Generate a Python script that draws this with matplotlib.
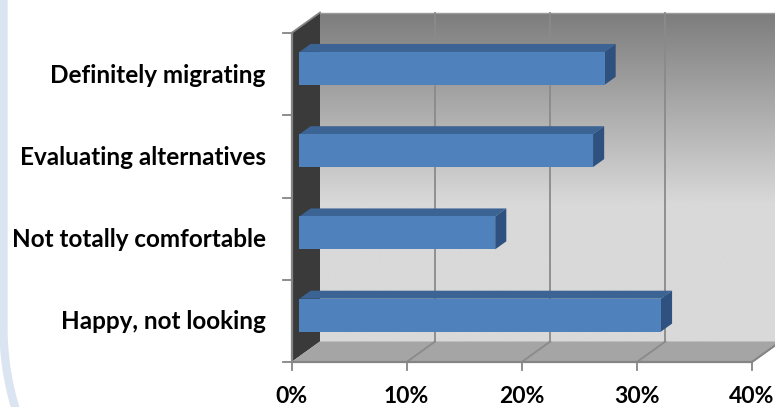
import numpy as np
import matplotlib
matplotlib.use("Agg")
import matplotlib.pyplot as plt
from matplotlib.patches import Polygon

plt.rcParams["font.family"] = ["Lato", "DejaVu Sans"]

# ---- data ---------------------------------------------------------------
categories = ["Happy, not looking", "Not totally comfortable",
              "Evaluating alternatives", "Definitely migrating"]
shares = [0.314, 0.170, 0.255, 0.265]
x_ticks = [0.0, 0.1, 0.2, 0.3, 0.4]
x_tick_labels = ["0%", "10%", "20%", "30%", "40%"]

# ---- layout -------------------------------------------------------------
W, H, DPI = 775, 407, 100
X0_PX, X1_PX = 291.5, 752.0        # front edge of the floor
YTOP_PX, YBOT_PX = 33.0, 362.0     # front edge of the left wall
XMAX = x_ticks[-1]
n = len(categories)
sx = (X1_PX - X0_PX) / XMAX        # pixels per unit share
sy = (YBOT_PX - YTOP_PX) / n       # pixels per category

DEPTH_X = 28.5 / sx                # box depth, in data units
DEPTH_Y = 20.5 / sy
F0, F1 = 0.28, 0.67                # bar front/back as a fraction of depth
BAR_H = 0.40

BAR_FRONT = "#4f81bd"
BAR_TOP = "#3b6393"
BAR_SIDE = "#2e517f"
LEFT_WALL = "#3a3a3a"
FLOOR = "#a5a5a5"
EDGE = "#858585"
GRID = "#8a8a8a"

fig = plt.figure(figsize=(W / DPI, H / DPI), dpi=DPI)

# slide frame behind the chart
bg = fig.add_axes([0, 0, 1, 1], zorder=0)
bg.set_xlim(0, W)
bg.set_ylim(H, 0)
bg.axis("off")
R, cx, cy = 275.0, 275.0 + 3.5, 328.0
t = np.linspace(0, 0.36, 60)
fx = np.concatenate([[3.5, 3.5], cx - R * np.cos(t)])
fy = np.concatenate([[-10, cy], cy + R * np.sin(t)])
bg.plot(fx, fy, color="#dbe5f1", lw=6, solid_capstyle="butt")

ax = fig.add_axes([0, 0, 1, 1], zorder=1)
ax.patch.set_alpha(0)
ymin = -0.5 - (H - YBOT_PX) / sy
ymax = ymin + H / sy
xmin = -X0_PX / sx
xmax = xmin + W / sx

y_lo, y_hi = -0.5, n - 0.5

# back wall with vertical gradient (dark at the top, light lower down)
g = np.linspace(0, 1, 256)
top_c = np.array([0x7d, 0x7d, 0x7d]) / 255
bot_c = np.array([0xd9, 0xd9, 0xd9]) / 255
lvl = np.clip(g - 0.42, 0, None) / 0.58
grad = bot_c[None, :] * (1 - lvl[:, None]) + top_c[None, :] * lvl[:, None]
ax.imshow(grad[:, None, :], extent=[DEPTH_X, XMAX + DEPTH_X, y_lo + DEPTH_Y, y_hi + DEPTH_Y],
          origin="lower", aspect="auto", zorder=1, interpolation="bilinear")
ax.plot([DEPTH_X, XMAX + DEPTH_X], [y_hi + DEPTH_Y] * 2, color="#9a9a9a", lw=1, zorder=1.5)

# gridlines on back wall and floor
for xv in x_ticks[1:]:
    ax.plot([xv + DEPTH_X] * 2, [y_lo + DEPTH_Y, y_hi + DEPTH_Y], color=GRID, lw=1.3, zorder=2)

# left wall
ax.add_patch(Polygon([(0, y_lo), (0, y_hi), (DEPTH_X, y_hi + DEPTH_Y), (DEPTH_X, y_lo + DEPTH_Y)],
                     closed=True, facecolor=LEFT_WALL, edgecolor="none", zorder=3))
ax.plot([0, DEPTH_X], [y_hi, y_hi + DEPTH_Y], color=EDGE, lw=1.3, zorder=3.5)

# floor
ax.add_patch(Polygon([(0, y_lo), (XMAX, y_lo), (XMAX + DEPTH_X, y_lo + DEPTH_Y), (DEPTH_X, y_lo + DEPTH_Y)],
                     closed=True, facecolor=FLOOR, edgecolor="none", zorder=3))
for xv in x_ticks[1:]:
    ax.plot([xv, xv + DEPTH_X], [y_lo, y_lo + DEPTH_Y], color=GRID, lw=1.3, zorder=3.5)

# bars: front face, top face, right side face
ypos = np.arange(n)
ax.barh(ypos + F0 * DEPTH_Y, shares, left=F0 * DEPTH_X, height=BAR_H,
        color=BAR_FRONT, edgecolor="none", zorder=5)
for yc, v in zip(ypos, shares):
    yt0 = yc + F0 * DEPTH_Y + BAR_H / 2
    yb0 = yc + F0 * DEPTH_Y - BAR_H / 2
    yt1 = yc + F1 * DEPTH_Y + BAR_H / 2
    yb1 = yc + F1 * DEPTH_Y - BAR_H / 2
    xf, xb = F0 * DEPTH_X, F1 * DEPTH_X
    ax.add_patch(Polygon([(xf, yt0), (v + xf, yt0), (v + xb, yt1), (xb, yt1)],
                         closed=True, facecolor=BAR_TOP, edgecolor="none", zorder=4.5))
    ax.add_patch(Polygon([(v + xf, yb0), (v + xf, yt0), (v + xb, yt1), (v + xb, yb1)],
                         closed=True, facecolor=BAR_SIDE, edgecolor="none", zorder=4.5))

# axis lines and ticks
ax.plot([0, XMAX], [y_lo, y_lo], color=EDGE, lw=1.6, zorder=6, solid_capstyle="butt")
ax.plot([XMAX, XMAX + DEPTH_X], [y_lo, y_lo + DEPTH_Y], color=EDGE, lw=1.3, zorder=6)
ax.plot([0, 0], [y_lo, y_hi], color=EDGE, lw=1.6, zorder=6, solid_capstyle="butt")
tick_dy = 8 / sy
tick_dx = 9 / sx
for xv in x_ticks:
    ax.plot([xv, xv], [y_lo, y_lo - tick_dy], color=EDGE, lw=1.3, zorder=6)
for yb in np.arange(n + 1) - 0.5:
    ax.plot([0, -tick_dx], [yb, yb], color=EDGE, lw=1.3, zorder=6)

# labels
for xv, lab in zip(x_ticks, x_tick_labels):
    ax.text(xv, y_lo - 41 / sy, lab, ha="center", va="baseline",
            fontsize=16.5, fontweight="bold", color="black", zorder=7)
for yc, lab in zip(ypos, categories):
    ax.text(-26 / sx, yc - 8.5 / sy, lab, ha="right", va="baseline",
            fontsize=17.5, fontweight="bold", color="black", zorder=7)

ax.set_xlim(xmin, xmax)
ax.set_ylim(ymin, ymax)
ax.axis("off")

fig.savefig("out.png", dpi=DPI)
